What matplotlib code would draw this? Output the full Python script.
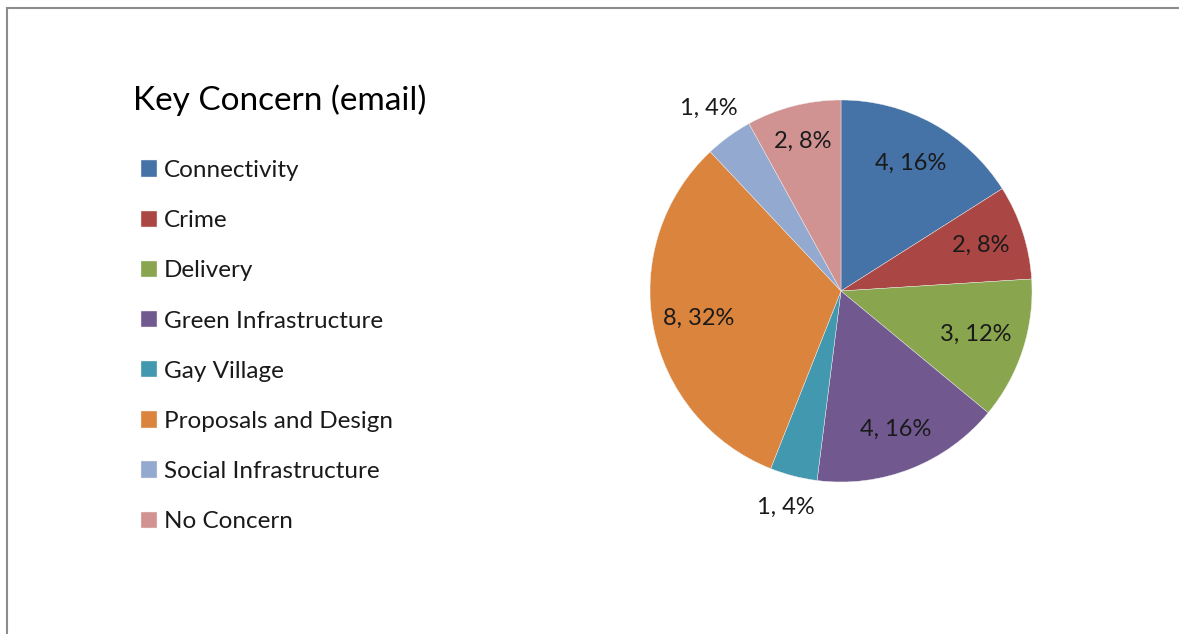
import matplotlib.pyplot as plt
import numpy as np
from matplotlib.patches import Rectangle

categories = ['Connectivity', 'Crime', 'Delivery', 'Green Infrastructure',
              'Gay Village', 'Proposals and Design', 'Social Infrastructure',
              'No Concern']
counts = [4, 2, 3, 4, 1, 8, 1, 2]
colors = ['#4572A7', '#AA4643', '#89A54E', '#71588F',
          '#4198AF', '#DB843D', '#93A9CF', '#D19392']

# small slices get their label pushed outside the pie
label_dist = [0.76, 0.77, 0.74, 0.78, 1.17, 0.76, 1.18, 0.81]

W, H = 1179, 634
plt.rcParams['font.family'] = ['Lato', 'DejaVu Sans']
fig = plt.figure(figsize=(W / 100, H / 100), dpi=100)

cx, cy, r = 841, 634 - 291, 191
ax = fig.add_axes([(cx - r) / W, (cy - r) / H, 2 * r / W, 2 * r / H])
wedges, _ = ax.pie(counts, colors=colors, startangle=90, counterclock=False,
                   wedgeprops=dict(edgecolor='#f0f0f0', linewidth=0.3))
ax.set_xlim(-1, 1)
ax.set_ylim(-1, 1)
ax.set_aspect('equal')
ax.axis('off')

total = sum(counts)
for w, n, d in zip(wedges, counts, label_dist):
    ang = np.deg2rad((w.theta1 + w.theta2) / 2)
    pct = round(100 * n / total)
    ax.text(d * np.cos(ang), d * np.sin(ang), f'{n}, {pct}%',
            ha='center', va='center', fontsize=17, color='#1a1a1a')

# chart frame, only top and left edges show
fig.add_artist(Rectangle((7 / W, -0.1), 1.2, 626 / H + 0.1,
                         transform=fig.transFigure, fill=False,
                         edgecolor='#8c8c8c', linewidth=1.5))

fig.text(133 / W, (H - 110) / H, 'Key Concern (email)', fontsize=24,
         va='baseline', ha='left', color='black')

fig.legend(wedges, categories, loc='upper left',
           bbox_to_anchor=(129 / W, (H - 148) / H), frameon=False,
           fontsize=17.5, handlelength=0.66, handleheight=0.66,
           handletextpad=0.27, labelspacing=1.2, borderpad=0,
           labelcolor='#1a1a1a')

fig.savefig('out.png', dpi=100)
